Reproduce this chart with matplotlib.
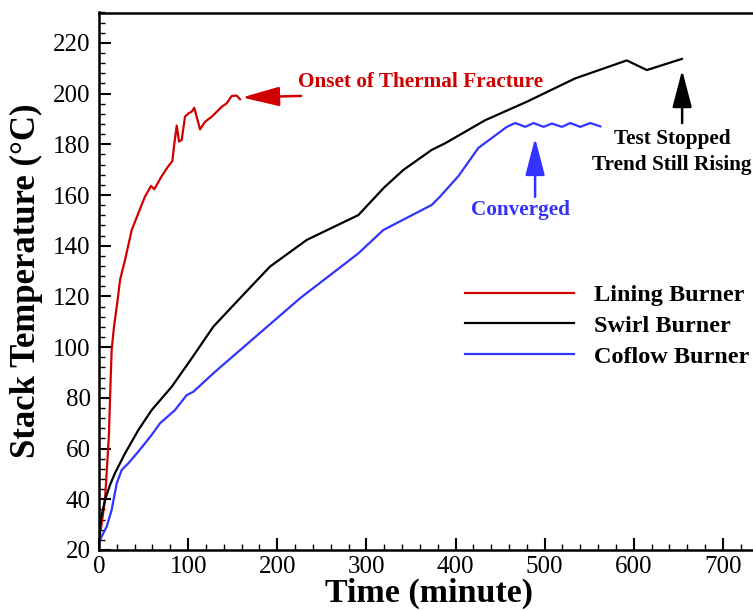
"""Stack temperature history for the three burner configurations."""
import matplotlib
matplotlib.use("Agg")
import matplotlib.pyplot as plt
from matplotlib.ticker import MultipleLocator

plt.rcParams["font.family"] = ["Liberation Serif", "DejaVu Serif"]

# Lining burner (red) — time [min], temperature [C]
lining_t = [0, 1.9, 6.7, 9.7, 11.2, 12.3, 14.2, 16.8, 20.9, 23.6, 29.2, 36.7, 44.1, 51.6,
            58.4, 62.1, 70.4, 77.8, 82.3, 84.2, 87.2, 89.8, 92.8, 96.5, 100.3, 104.0,
            106.9, 109.6, 113.4, 119.0, 126.5, 137.7, 143.3, 148.9, 154.5, 158.2]
lining_T = [25.0, 27.9, 39.7, 56.8, 66.0, 79.0, 98.9, 108.0, 118.6, 126.5, 134.4, 146.2,
            152.8, 159.4, 163.6, 162.3, 167.5, 171.4, 173.4, 179.3, 187.4, 181.1, 181.7,
            190.9, 192.2, 192.9, 194.4, 190.9, 185.9, 188.9, 190.9, 194.8, 196.2, 199.1,
            199.2, 197.8]

# Swirl burner (black)
swirl_t = [0, 1.9, 6.7, 12.3, 17.9, 29.2, 44.1, 59.1, 81.6, 104.0, 128.3, 158.2, 191.9,
           233.1, 291.0, 320.0, 341.5, 373.3, 388.3, 433.2, 480.0, 534.2, 592.2, 614.7,
           654.0]
swirl_T = [25.0, 31.8, 39.7, 45.6, 50.3, 58.1, 67.3, 75.2, 84.4, 95.6, 108.1, 119.3, 131.8,
           142.3, 152.1, 163.0, 169.9, 177.8, 180.4, 189.5, 196.8, 206.0, 213.1, 209.3,
           213.7]

# Coflow burner (blue)
coflow_t = [0, 1.9, 8.6, 14.2, 19.9, 25.5, 32.9, 44.1, 59.1, 68.5, 85.3, 98.4, 105.8, 130.2,
            225.6, 291.0, 319.0, 373.3, 382.7, 403.3, 425.7, 457.6, 467.0, 478.2, 487.6,
            498.8, 508.2, 519.4, 528.8, 540.0, 551.2, 562.4]
coflow_T = [23.5, 24.6, 29.2, 35.8, 46.3, 51.6, 54.2, 58.8, 65.4, 70.0, 75.2, 81.1, 82.4,
            90.3, 119.3, 137.0, 146.2, 156.1, 159.4, 167.5, 178.6, 186.9, 188.4, 186.9,
            188.4, 186.9, 188.2, 186.9, 188.4, 186.9, 188.4, 187.1]

RED = "#d00000"
BLUE = "#3333ff"

fig = plt.figure(figsize=(7.53, 6.10), dpi=100)
ax = fig.add_axes([99 / 753, 60 / 610, 713 / 753, 537.5 / 610])

ax.plot(lining_t, lining_T, color=RED, lw=1.6, label="Lining Burner")
ax.plot(swirl_t, swirl_T, color="black", lw=1.6, label="Swirl Burner")
ax.plot(coflow_t, coflow_T, color=BLUE, lw=1.6, label="Coflow Burner")

ax.set_xlim(0, 800)
ax.set_ylim(20, 232)
ax.set_xticks(range(0, 701, 100))
ax.xaxis.set_minor_locator(MultipleLocator(20))
ax.yaxis.set_major_locator(MultipleLocator(20))
ax.yaxis.set_minor_locator(MultipleLocator(4))
ax.tick_params(which="major", direction="in", length=8.5, width=1.5, labelsize=18, pad=6)
ax.tick_params(axis="x", which="major", pad=4)
ax.tick_params(which="minor", direction="in", length=4.3, width=1.0)
for s in ax.spines.values():
    s.set_linewidth(1.8)

ax.set_xlabel("Time (minute)", fontsize=24.5, fontweight="bold")
ax.set_ylabel("Stack Temperature (\u00b0C)", fontsize=25, fontweight="bold")
ax.xaxis.set_label_coords(0.463, -0.052)
ax.yaxis.set_label_coords(-0.078, 0.5)

# annotations
head = "-|>,head_length=2.3,head_width=0.6"
ax.annotate("", xy=(160.5, 198.5), xytext=(226.7, 199.1),
            arrowprops=dict(arrowstyle=head, mutation_scale=10, color=RED, lw=1.8,
                            shrinkA=0, shrinkB=0))
ax.text(223, 204.6, "Onset of Thermal Fracture", color=RED, fontsize=15.3,
        fontweight="bold", ha="left", va="center")

ax.annotate("", xy=(489.3, 182.5), xytext=(489.3, 159.3),
            arrowprops=dict(arrowstyle=head, mutation_scale=10, color=BLUE, lw=1.8,
                            shrinkA=0, shrinkB=0))
ax.text(473, 154.0, "Converged", color=BLUE, fontsize=15.3, fontweight="bold",
        ha="center", va="center")

ax.annotate("", xy=(654.3, 209.3), xytext=(654.3, 188.4),
            arrowprops=dict(arrowstyle=head, mutation_scale=10, color="black", lw=1.8,
                            shrinkA=0, shrinkB=0))
ax.text(643, 182, "Test Stopped", color="black", fontsize=15.3, fontweight="bold",
        ha="center", va="center")
ax.text(643, 172, "Trend Still Rising", color="black", fontsize=15.3, fontweight="bold",
        ha="center", va="center")

ax.legend(loc="upper left", bbox_to_anchor=(465 / 753, 1 - 284 / 610),
          bbox_transform=fig.transFigure, frameon=False, borderpad=0, borderaxespad=0,
          handlelength=4.5, handletextpad=0.8, labelspacing=0.36,
          prop={"weight": "bold", "size": 17.5})

fig.savefig("out.png", dpi=100)
